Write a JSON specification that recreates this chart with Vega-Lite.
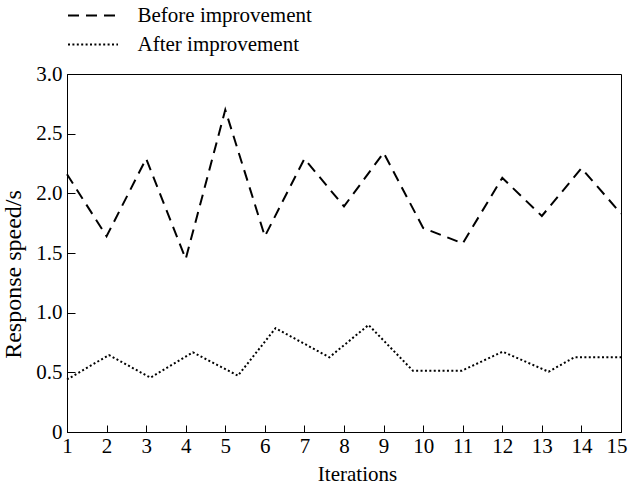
{
  "$schema": "https://vega.github.io/schema/vega-lite/v6.json",
  "autosize": "none",
  "width": 554,
  "height": 358,
  "padding": {"left": 67, "top": 74, "right": 7, "bottom": 57},
  "background": "white",
  "config": {
    "font": "Liberation Serif",
    "view": {"stroke": "black", "strokeWidth": 1},
    "axis": {
      "labelFont": "Liberation Serif",
      "titleFont": "Liberation Serif",
      "labelFontSize": 21,
      "titleFontSize": 21,
      "titleFontWeight": "normal",
      "labelColor": "black",
      "titleColor": "black",
      "domainColor": "black",
      "tickColor": "black",
      "grid": false
    }
  },
  "data": {
    "values": [
      {"iteration": 1, "speed": 2.16, "series": "Before improvement"},
      {"iteration": 2, "speed": 1.64, "series": "Before improvement"},
      {"iteration": 3, "speed": 2.29, "series": "Before improvement"},
      {"iteration": 4, "speed": 1.45, "series": "Before improvement"},
      {"iteration": 5, "speed": 2.70, "series": "Before improvement"},
      {"iteration": 6, "speed": 1.64, "series": "Before improvement"},
      {"iteration": 7, "speed": 2.29, "series": "Before improvement"},
      {"iteration": 8, "speed": 1.89, "series": "Before improvement"},
      {"iteration": 9, "speed": 2.34, "series": "Before improvement"},
      {"iteration": 10, "speed": 1.71, "series": "Before improvement"},
      {"iteration": 11, "speed": 1.58, "series": "Before improvement"},
      {"iteration": 12, "speed": 2.13, "series": "Before improvement"},
      {"iteration": 13, "speed": 1.81, "series": "Before improvement"},
      {"iteration": 14, "speed": 2.21, "series": "Before improvement"},
      {"iteration": 15, "speed": 1.83, "series": "Before improvement"},
      {"iteration": 1.0, "speed": 0.44, "series": "After improvement"},
      {"iteration": 2.06, "speed": 0.645, "series": "After improvement"},
      {"iteration": 3.11, "speed": 0.455, "series": "After improvement"},
      {"iteration": 4.18, "speed": 0.668, "series": "After improvement"},
      {"iteration": 5.32, "speed": 0.472, "series": "After improvement"},
      {"iteration": 6.27, "speed": 0.87, "series": "After improvement"},
      {"iteration": 7.63, "speed": 0.626, "series": "After improvement"},
      {"iteration": 8.62, "speed": 0.897, "series": "After improvement"},
      {"iteration": 9.74, "speed": 0.514, "series": "After improvement"},
      {"iteration": 10.98, "speed": 0.514, "series": "After improvement"},
      {"iteration": 12.01, "speed": 0.673, "series": "After improvement"},
      {"iteration": 13.17, "speed": 0.505, "series": "After improvement"},
      {"iteration": 13.82, "speed": 0.626, "series": "After improvement"},
      {"iteration": 15.0, "speed": 0.626, "series": "After improvement"}
    ]
  },
  "mark": {"type": "line", "color": "black", "strokeWidth": 2},
  "encoding": {
    "x": {
      "field": "iteration",
      "type": "quantitative",
      "scale": {"domain": [1, 15], "nice": false, "zero": false},
      "axis": {
        "title": "Iterations",
        "values": [1, 2, 3, 4, 5, 6, 7, 8, 9, 10, 11, 12, 13, 14, 15],
        "format": "d",
        "tickSize": -7,
        "labelPadding": 10,
        "labelFlush": false,
        "labelOverlap": false,
        "labelAlign": {"condition": {"test": "datum.value == 15", "value": "right"}, "value": "center"},
        "labelOffset": {"condition": {"test": "datum.value == 15", "value": 6}, "value": 0},
        "titleX": 290,
        "titleY": 31,
        "titleBaseline": "top"
      }
    },
    "y": {
      "field": "speed",
      "type": "quantitative",
      "scale": {"domain": [0, 3], "nice": false},
      "axis": {
        "title": "Response speed/s",
        "titleFontSize": 24,
        "values": [0, 0.5, 1, 1.5, 2, 2.5, 3],
        "labelExpr": "datum.value == 0 ? '0' : format(datum.value, '.1f')",
        "tickSize": -8,
        "labelPadding": 13,
        "labelFlush": false,
        "labelOverlap": false,
        "titleX": -42,
        "titleY": 200,
        "titleBaseline": "bottom"
      }
    },
    "strokeDash": {
      "field": "series",
      "type": "nominal",
      "scale": {
        "domain": ["Before improvement", "After improvement"],
        "range": [[11, 7], [2, 2.4]]
      },
      "legend": {
        "title": null,
        "orient": "none",
        "direction": "vertical",
        "legendX": 1,
        "legendY": -69,
        "padding": 0,
        "symbolType": "M-5,0H5",
        "symbolSize": 100,
        "symbolStrokeWidth": 2,
        "symbolStrokeColor": "black",
        "symbolOffset": 14.5,
        "labelOffset": 34,
        "rowPadding": 7,
        "labelFont": "Liberation Serif",
        "labelFontSize": 21,
        "labelColor": "black",
        "labelLimit": 400
      }
    }
  }
}
